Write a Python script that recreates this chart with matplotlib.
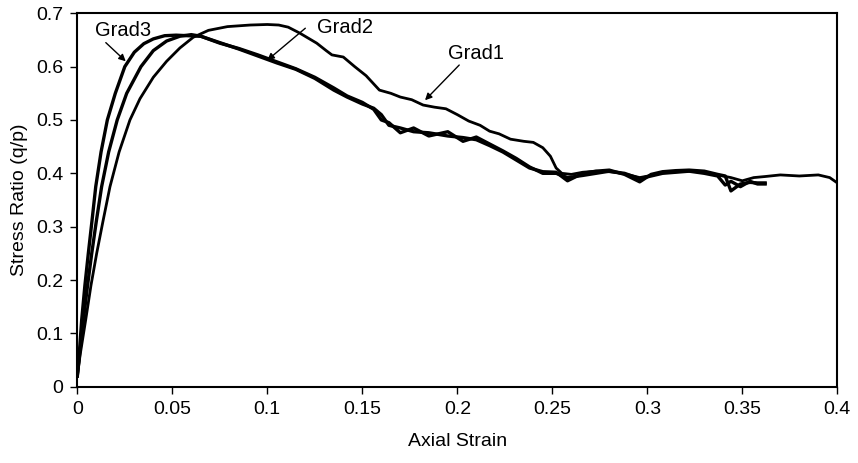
import matplotlib
matplotlib.use("Agg")
import matplotlib.pyplot as plt
from matplotlib.ticker import FixedLocator, FuncFormatter

plt.rcParams['font.family'] = ['Liberation Sans', 'DejaVu Sans']

# ---- data ----
grad1_x = [0, 0.0015, 0.0044, 0.0072, 0.0102, 0.0135, 0.0172, 0.022, 0.0277, 0.033, 0.040, 0.047,
           0.054, 0.061, 0.069, 0.079, 0.091, 0.100, 0.106, 0.111, 0.117, 0.126, 0.131, 0.134, 0.140,
           0.146, 0.152, 0.159, 0.165, 0.170, 0.176, 0.182, 0.188, 0.194, 0.200, 0.206, 0.212, 0.217,
           0.222, 0.228, 0.235, 0.240, 0.245, 0.249, 0.252, 0.255, 0.260, 0.266, 0.273, 0.280, 0.288,
           0.296, 0.302, 0.308, 0.315, 0.322, 0.330, 0.337, 0.344, 0.350, 0.356, 0.362, 0.370, 0.380,
           0.390, 0.396, 0.400]
grad1_y = [0.02, 0.06, 0.125, 0.19, 0.25, 0.31, 0.375, 0.44, 0.50, 0.54, 0.58, 0.61,
           0.635, 0.655, 0.668, 0.675, 0.678, 0.679, 0.678, 0.674, 0.663, 0.644, 0.630, 0.622, 0.618,
           0.600, 0.583, 0.556, 0.550, 0.543, 0.538, 0.528, 0.524, 0.521, 0.510, 0.498, 0.490, 0.479,
           0.474, 0.464, 0.460, 0.458, 0.448, 0.432, 0.410, 0.400, 0.398, 0.402, 0.404, 0.403, 0.399,
           0.392, 0.396, 0.401, 0.403, 0.404, 0.402, 0.397, 0.392, 0.386, 0.392, 0.394, 0.397, 0.395,
           0.397, 0.392, 0.382]

grad2_x = [0, 0.0012, 0.0032, 0.0054, 0.0076, 0.010, 0.0128, 0.0165, 0.021, 0.026, 0.0335, 0.040,
           0.047, 0.054, 0.060, 0.065, 0.075, 0.085, 0.095, 0.105, 0.115, 0.125, 0.135, 0.142, 0.150,
           0.156, 0.160, 0.164, 0.170, 0.177, 0.185, 0.195, 0.203, 0.210, 0.217, 0.224, 0.231, 0.238,
           0.245, 0.252, 0.258, 0.266, 0.273, 0.280, 0.288, 0.296, 0.302, 0.308, 0.315, 0.322, 0.330,
           0.337, 0.341, 0.344, 0.349, 0.354, 0.358, 0.362]
grad2_y = [0.02, 0.06, 0.125, 0.19, 0.25, 0.31, 0.375, 0.44, 0.50, 0.55, 0.60, 0.63,
           0.648, 0.657, 0.660, 0.657, 0.644, 0.634, 0.622, 0.609, 0.596, 0.580, 0.560, 0.545, 0.533,
           0.520, 0.500, 0.495, 0.476, 0.485, 0.470, 0.478, 0.460, 0.468, 0.455, 0.442, 0.428, 0.412,
           0.400, 0.400, 0.392, 0.396, 0.400, 0.404, 0.400, 0.390, 0.395, 0.400, 0.402, 0.404, 0.400,
           0.395, 0.378, 0.385, 0.375, 0.385, 0.380, 0.380]

grad3_x = [0, 0.001, 0.0023, 0.004, 0.0058, 0.0077, 0.0097, 0.0125, 0.0158, 0.020, 0.025, 0.030,
           0.035, 0.040, 0.046, 0.052, 0.058, 0.065, 0.075, 0.085, 0.095, 0.105, 0.115, 0.125, 0.135,
           0.142, 0.150, 0.156, 0.160, 0.164, 0.170, 0.177, 0.185, 0.195, 0.203, 0.210, 0.217, 0.224,
           0.231, 0.238, 0.245, 0.252, 0.258, 0.266, 0.273, 0.280, 0.288, 0.296, 0.302, 0.308, 0.315,
           0.322, 0.330, 0.337, 0.341, 0.344, 0.349, 0.354, 0.358, 0.362]
grad3_y = [0.02, 0.06, 0.125, 0.19, 0.25, 0.31, 0.375, 0.44, 0.50, 0.55, 0.60, 0.627,
           0.643, 0.652, 0.658, 0.659, 0.658, 0.657, 0.645, 0.633, 0.620, 0.607, 0.595, 0.578, 0.556,
           0.543, 0.530, 0.522, 0.510, 0.490, 0.485, 0.478, 0.476, 0.470, 0.467, 0.463, 0.452, 0.440,
           0.425, 0.410, 0.403, 0.402, 0.386, 0.400, 0.404, 0.406, 0.398, 0.384, 0.398, 0.403, 0.405,
           0.406, 0.404, 0.398, 0.395, 0.367, 0.380, 0.383, 0.382, 0.382]

x_ticks = [0, 0.05, 0.1, 0.15, 0.2, 0.25, 0.3, 0.35, 0.4]
y_ticks = [0, 0.1, 0.2, 0.3, 0.4, 0.5, 0.6, 0.7]

labels = ["Grad1", "Grad2", "Grad3"]
label_text_pos = [(0.210, 0.625), (0.141, 0.674), (0.024, 0.667)]
label_arrow_tip = [(0.183, 0.537), (0.100, 0.612), (0.0255, 0.610)]
label_arrow_start = [(0.201, 0.603), (0.120, 0.672), (0.015, 0.645)]

# ---- figure ----
fig = plt.figure(figsize=(8.58, 4.63), dpi=100)
ax = fig.add_axes([0.0901, 0.1648, 0.9759 - 0.0901, 0.9713 - 0.1648])

ax.plot(grad1_x, grad1_y, color='black', lw=2.0, solid_joinstyle='round')
ax.plot(grad2_x, grad2_y, color='black', lw=2.4, solid_joinstyle='round')
ax.plot(grad3_x, grad3_y, color='black', lw=2.4, solid_joinstyle='round')

for lab, tp, tip, st in zip(labels, label_text_pos, label_arrow_tip, label_arrow_start):
    ax.text(tp[0], tp[1], lab, fontsize=14.5, ha='center', va='center')
    ax.annotate('', xy=tip, xytext=st,
                arrowprops=dict(arrowstyle='-|>', color='black', lw=1.0,
                                mutation_scale=10, shrinkA=0, shrinkB=0))

ax.set_xlim(0, 0.4)
ax.set_ylim(0, 0.7)
ax.xaxis.set_major_locator(FixedLocator(x_ticks))
ax.yaxis.set_major_locator(FixedLocator(y_ticks))
fmt = FuncFormatter(lambda v, p: ('%g' % round(v, 3)))
ax.xaxis.set_major_formatter(fmt)
ax.yaxis.set_major_formatter(fmt)
ax.tick_params(direction='out', length=5, width=1.0, labelsize=14, pad=5)

for s in ax.spines.values():
    s.set_linewidth(1.5)

ax.set_xlabel('Axial Strain', fontsize=14, labelpad=11)
ax.set_ylabel('Stress Ratio (q/p)', fontsize=14, labelpad=6)

fig.savefig('out.png', dpi=100)
